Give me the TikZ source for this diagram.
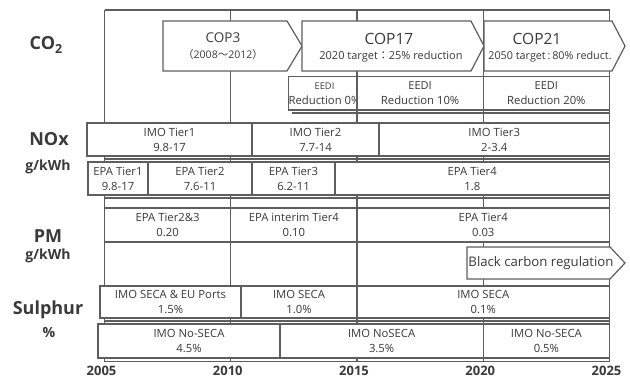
\documentclass[tikz,border=0pt]{standalone}
\usepackage{fontspec}
\setmainfont{Open Sans}
\newfontfamily\cjkfont{Noto Sans CJK JP}
\definecolor{ink}{HTML}{3A3A3A}
\definecolor{rulegray}{HTML}{5E5E5E}

% a white table cell spanning x1..x2, y1..y2 (units are pixels, y downward)
\newcommand\cell[6]{%
  \node[cell, minimum width={#3-#2}, minimum height={#5-#4}]
    (#1) at ({(#2+#3)/2},{(#4+#5)/2}) {#6};}

\begin{document}
\begin{tikzpicture}[x=1pt,y=-1pt,
  gridline/.style={draw=rulegray, line width=1.2pt},
  cell/.style={draw=rulegray, fill=white, line width=1.2pt, rectangle,
    inner sep=0pt, outer sep=0pt, align=center, text=ink,
    font=\fontsize{11.3}{15}\selectfont},
  chevron/.style={draw=rulegray, fill=white, line width=1.2pt, line join=miter},
  rowlabel/.style={text=ink, inner sep=0pt, font=\bfseries\fontsize{18}{20}\selectfont},
  unitlabel/.style={text=ink, inner sep=0pt, font=\bfseries\fontsize{14}{16}\selectfont},
  yearlabel/.style={text=ink, inner sep=0pt, font=\bfseries\fontsize{13}{15}\selectfont},
  plain/.style={text=ink, inner sep=0pt},
]
\useasboundingbox (0,0) rectangle (630,378);
\fill[white] (0,0) rectangle (630,378);

% ---- time axis: vertical year lines and year labels ----
\foreach \x/\yr in {104.5/2005, 230.75/2010, 357/2015, 483.25/2020, 609.5/2025} {
  \coordinate (top\yr) at (\x,10);
  \coordinate (bot\yr) at (\x,361.5);
  \draw[gridline] (top\yr) -- (bot\yr);
  \node[yearlabel] (year\yr) at (\x-3,370.5) {\yr};
}

% ---- horizontal table lines ----
\draw[gridline] (top2005) -- (top2025);
\draw[gridline] (292,113) -- (609.5,113);
\foreach \yy in {159, 198, 208, 242, 321} {
  \draw[gridline] (104.5,\yy) -- (609.5,\yy);
}
\draw[gridline] (bot2005) -- (bot2025);

% ---- row labels ----
\node[rowlabel] (lco2) at (46,45) {CO\raisebox{-4.5pt}{\fontsize{12.5}{13}\selectfont 2}};
\node[rowlabel] (lnox) at (49,139) {NOx};
\node[unitlabel] (lnoxu) at (48,166.5) {g/kWh};
\node[rowlabel] (lpm) at (48,236) {PM};
\node[unitlabel] (lpmu) at (48,256) {g/kWh};
\node[rowlabel] (lsul) at (48,310) {Sulphur};
\node[unitlabel] (lsulu) at (49,332) {\%};

% ---- CO2: COP targets ----
\draw[chevron] (163,21) -- (287,21) -- (302,46) -- (287,71) -- (163,71) -- cycle;
\node[plain, font=\fontsize{13.5}{15}\selectfont] (cop3) at (223,37.5) {COP3};
\node[plain, font=\fontsize{10.5}{12}\selectfont] (cop3t) at (223,55)
  {{\cjkfont （}2008{\cjkfont ～}2012{\cjkfont ）}};

\draw[chevron] (302,21) -- (471,21) -- (484,46) -- (471,71) -- (302,71) -- cycle;
\node[plain, font=\fontsize{15.5}{17}\selectfont] (cop17) at (389,38.5) {COP17};
\node[plain, font=\fontsize{11}{13}\selectfont] (cop17t) at (391,57)
  {2020 target{\cjkfont ：}25\% reduction};

\draw[chevron] (484,21) -- (612,21) -- (625,46) -- (612,71) -- (484,71) -- cycle;
\node[plain, font=\fontsize{15.5}{17}\selectfont] (cop21) at (537,38.5) {COP21};
\node[plain, font=\fontsize{10.8}{13}\selectfont] (cop21t) at (550,57)
  {2050 target\,:\,80\% reduct.};

% ---- CO2: EEDI ----
\cell{eedi0}{292}{357}{76.5}{110}{\fontsize{9.3}{13}\selectfont EEDI\\Reduction 0\%}
\cell{eedi10}{357}{483.25}{76.5}{110}{\fontsize{11}{15}\selectfont EEDI\\Reduction\ 10\%}
\cell{eedi20}{483.25}{609.5}{76.5}{110}{\fontsize{11}{15}\selectfont EEDI\\Reduction\ 20\%}

% ---- NOx: IMO ----
\cell{imo1}{87}{252}{123}{156}{IMO Tier1\\9.8-17}
\cell{imo2}{252}{379}{123}{156}{IMO Tier2\\7.7-14}
\cell{imo3}{379}{609.5}{123}{156}{IMO Tier3\\2-3.4}

% ---- NOx: EPA ----
\cell{epa1}{88}{148}{162}{195}{EPA Tier1\\9.8-17}
\cell{epa2}{148}{252}{162}{195}{EPA Tier2\\7.6-11}
\cell{epa3}{252}{335}{162}{195}{EPA Tier3\\6.2-11}
\cell{epa4}{335}{609.5}{162}{195}{EPA Tier4\\1.8}

% ---- PM ----
\cell{pm1}{104.5}{230.75}{208}{242}{EPA Tier2\&3\\0.20}
\cell{pm2}{230.75}{357}{208}{242}{EPA interim Tier4\\0.10}
\cell{pm3}{357}{609.5}{208}{242}{EPA Tier4\\0.03}

\draw[chevron] (467,247) -- (610,247) -- (625,263) -- (610,279) -- (467,279) -- cycle;
\node[plain, font=\fontsize{13.2}{15}\selectfont] (bcr) at (541,263) {Black carbon regulation};

% ---- Sulphur: SECA ----
\cell{seca1}{100}{241}{286}{318}{IMO SECA \& EU Ports\\1.5\%}
\cell{seca2}{241}{357}{286}{318}{IMO SECA\\1.0\%}
\cell{seca3}{357}{609.5}{286}{318}{IMO SECA\\0.1\%}

% ---- Sulphur: outside SECA ----
\cell{nos1}{98}{280}{324}{358}{IMO No-SECA\\4.5\%}
\cell{nos2}{280}{483.25}{324}{358}{IMO NoSECA\\3.5\%}
\cell{nos3}{483.25}{609.5}{324}{358}{IMO No-SECA\\0.5\%}

\end{tikzpicture}
\end{document}
